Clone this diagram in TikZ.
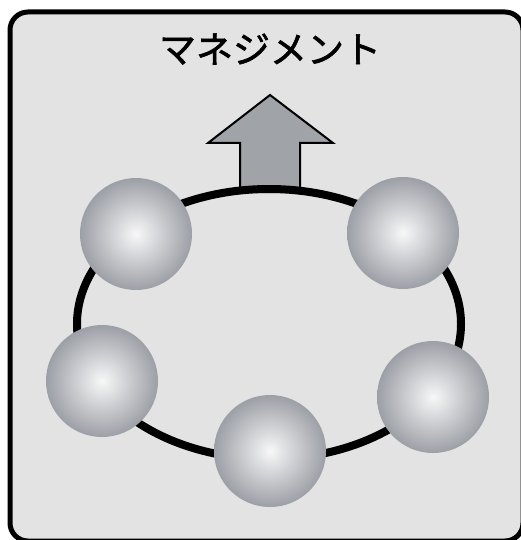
\documentclass[tikz,border=0pt]{standalone}
\usepackage{fontspec}
\usepackage{xcolor}
\usepackage{tikz}
\usetikzlibrary{shapes.geometric}

\newfontfamily\jp[FakeBold=1.6]{Noto Sans CJK JP}

\definecolor{boxgray}{RGB}{227,227,227}
\definecolor{ballrim}{RGB}{156,159,166}
\definecolor{arrowgray}{RGB}{160,163,168}

\tikzset{
    ball/.style={circle, minimum size=112pt, inner sep=0pt, shading=radial,
        inner color=white!97!black, outer color=ballrim},
    ring/.style={ellipse, draw, line width=8pt, minimum width=384pt,
        minimum height=270pt, inner sep=0pt},
}

\begin{document}
\begin{tikzpicture}[x=1pt, y=-1pt]
        \useasboundingbox (0, 0) rectangle (521, 540);
        \draw [line width=5pt, rounded corners=18pt, fill=boxgray] (10, 12) rectangle (523, 541);

        \node (title) at (270, 49) {\jp\fontsize{37pt}{37pt}\selectfont マネジメント};

        % arrow sits on top of the ring
        \draw [line width=2pt, fill=arrowgray, line join=miter]
            (240, 193) -- (240, 143) -- (208, 143) -- (270, 95)
            -- (333, 143) -- (300, 143) -- (300, 193);
        \node [ring] (loop) at (269, 324) {};

        \foreach \name/\x/\y in {tl/136/234, tr/403/233, l/102/381, r/433/397, b/270/451} {
            \node [ball] (\name) at (\x, \y) {};
        }
    \end{tikzpicture}
\end{document}
